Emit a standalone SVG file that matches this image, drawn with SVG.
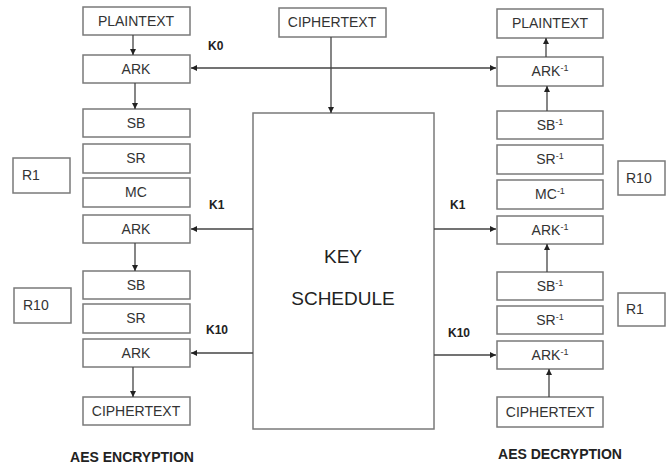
<svg xmlns="http://www.w3.org/2000/svg" width="667" height="468" viewBox="0 0 667 468">
<defs>
<marker id="ah" viewBox="0 0 6 6" refX="6" refY="3" markerWidth="6" markerHeight="6" markerUnits="userSpaceOnUse" orient="auto-start-reverse">
<path d="M0,0 L6,3 L0,6 z" fill="#222"/>
</marker>
<style>
.box{fill:#fff;stroke:#7a7a7a;stroke-width:1.5}
.t{font-family:"Liberation Sans",Arial,sans-serif;font-size:14px;fill:#333;text-anchor:middle}
.tl{font-family:"Liberation Sans",Arial,sans-serif;font-size:14px;fill:#333}
.k{font-family:"Liberation Sans",Arial,sans-serif;font-size:12px;font-weight:bold;fill:#222}
.h{font-family:"Liberation Sans",Arial,sans-serif;font-size:14px;font-weight:bold;fill:#222;text-anchor:middle}
.big{font-family:"Liberation Sans",Arial,sans-serif;font-size:19px;fill:#222;text-anchor:middle}
.sup{font-size:9px}
.c{stroke:#444;stroke-width:1.3;fill:none}
</style>
</defs>
<rect width="667" height="468" fill="#fff"/>

<g id="enc-plaintext"><rect class="box" x="83" y="7" width="107" height="28"/><text class="t" x="136" y="26">PLAINTEXT</text></g>
<g id="enc-ark0"><rect class="box" x="83" y="55" width="107" height="28"/><text class="t" x="136" y="74">ARK</text></g>
<g id="enc-sb1"><rect class="box" x="83" y="109" width="107" height="28"/><text class="t" x="136" y="128">SB</text></g>
<g id="enc-sr1"><rect class="box" x="83" y="144" width="107" height="29"/><text class="t" x="136" y="163">SR</text></g>
<g id="enc-mc1"><rect class="box" x="83" y="178" width="107" height="29"/><text class="t" x="136" y="197">MC</text></g>
<g id="enc-ark1"><rect class="box" x="83" y="215" width="107" height="28"/><text class="t" x="136" y="234">ARK</text></g>
<g id="enc-sb10"><rect class="box" x="83" y="271" width="107" height="28"/><text class="t" x="136" y="290">SB</text></g>
<g id="enc-sr10"><rect class="box" x="83" y="304" width="107" height="29"/><text class="t" x="136" y="323">SR</text></g>
<g id="enc-ark10"><rect class="box" x="83" y="339" width="107" height="28"/><text class="t" x="136" y="358">ARK</text></g>
<g id="enc-ciphertext"><rect class="box" x="83" y="397" width="107" height="28"/><text class="t" x="136" y="416">CIPHERTEXT</text></g>
<g id="enc-r1"><rect class="box" x="13" y="158" width="57" height="35"/><text class="tl" x="22" y="180">R1</text></g>
<g id="enc-r10"><rect class="box" x="14" y="288" width="57" height="35"/><text class="tl" x="23" y="310">R10</text></g>
<g id="enc-title"><text class="h" x="132" y="462">AES ENCRYPTION</text></g>

<g id="mid-ciphertext"><rect class="box" x="279" y="8" width="107" height="29"/><text class="t" x="332" y="27">CIPHERTEXT</text></g>
<g id="key-schedule"><rect class="box" x="253" y="113" width="181" height="316"/><text class="big" x="343" y="263">KEY</text><text class="big" x="343" y="305">SCHEDULE</text></g>

<g id="dec-plaintext"><rect class="box" x="497" y="9" width="106" height="29"/><text class="t" x="550" y="28">PLAINTEXT</text></g>
<g id="dec-ark0"><rect class="box" x="497" y="57" width="106" height="29"/><text class="t" x="550" y="76">ARK<tspan class="sup" dy="-5">-1</tspan></text></g>
<g id="dec-sb10"><rect class="box" x="497" y="111" width="106" height="28"/><text class="t" x="550" y="130">SB<tspan class="sup" dy="-5">-1</tspan></text></g>
<g id="dec-sr10"><rect class="box" x="497" y="145" width="106" height="29"/><text class="t" x="550" y="164">SR<tspan class="sup" dy="-5">-1</tspan></text></g>
<g id="dec-mc"><rect class="box" x="497" y="180" width="106" height="29"/><text class="t" x="550" y="199">MC<tspan class="sup" dy="-5">-1</tspan></text></g>
<g id="dec-ark1"><rect class="box" x="497" y="216" width="106" height="28"/><text class="t" x="550" y="235">ARK<tspan class="sup" dy="-5">-1</tspan></text></g>
<g id="dec-sb1"><rect class="box" x="497" y="272" width="106" height="28"/><text class="t" x="550" y="291">SB<tspan class="sup" dy="-5">-1</tspan></text></g>
<g id="dec-sr1"><rect class="box" x="497" y="306" width="106" height="28"/><text class="t" x="550" y="325">SR<tspan class="sup" dy="-5">-1</tspan></text></g>
<g id="dec-ark10"><rect class="box" x="497" y="341" width="106" height="28"/><text class="t" x="550" y="360">ARK<tspan class="sup" dy="-5">-1</tspan></text></g>
<g id="dec-ciphertext"><rect class="box" x="497" y="397" width="106" height="30"/><text class="t" x="550" y="417">CIPHERTEXT</text></g>
<g id="dec-r10"><rect class="box" x="618" y="161" width="47" height="34"/><text class="tl" x="626" y="183">R10</text></g>
<g id="dec-r1"><rect class="box" x="618" y="293" width="47" height="33"/><text class="tl" x="626" y="314">R1</text></g>
<g id="dec-title"><text class="h" x="560" y="459">AES DECRYPTION</text></g>

<g id="connectors">
<line class="c" x1="191" y1="68" x2="496" y2="68" marker-start="url(#ah)" marker-end="url(#ah)"/>
<line class="c" x1="331" y1="37" x2="331" y2="113" marker-end="url(#ah)"/>
<line class="c" x1="253" y1="229" x2="191" y2="229" marker-end="url(#ah)"/>
<line class="c" x1="253" y1="353" x2="191" y2="353" marker-end="url(#ah)"/>
<line class="c" x1="434" y1="229" x2="496" y2="229" marker-end="url(#ah)"/>
<line class="c" x1="434" y1="355" x2="496" y2="355" marker-end="url(#ah)"/>
<line class="c" x1="133" y1="35" x2="133" y2="55" marker-end="url(#ah)"/>
<line class="c" x1="135" y1="83" x2="135" y2="109" marker-end="url(#ah)"/>
<line class="c" x1="135" y1="243" x2="135" y2="271" marker-end="url(#ah)"/>
<line class="c" x1="133" y1="367" x2="133" y2="397" marker-end="url(#ah)"/>
<line class="c" x1="546" y1="57" x2="546" y2="38" marker-end="url(#ah)"/>
<line class="c" x1="547" y1="111" x2="547" y2="86" marker-end="url(#ah)"/>
<line class="c" x1="547" y1="272" x2="547" y2="244" marker-end="url(#ah)"/>
<line class="c" x1="549" y1="397" x2="549" y2="369" marker-end="url(#ah)"/>
<text class="k" x="208" y="50">K0</text>
<text class="k" x="209" y="209">K1</text>
<text class="k" x="206" y="334">K10</text>
<text class="k" x="450" y="209">K1</text>
<text class="k" x="448" y="337">K10</text>
</g>
</svg>
